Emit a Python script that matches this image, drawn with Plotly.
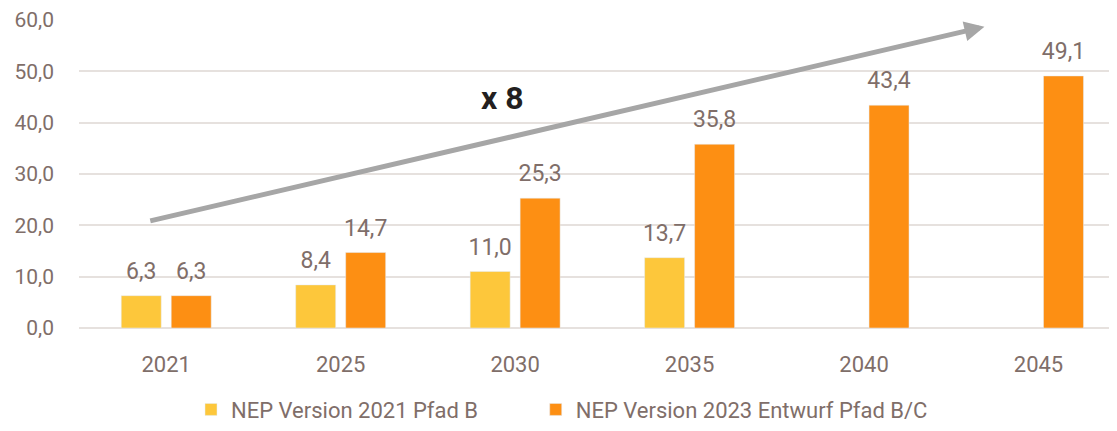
import plotly.graph_objects as go

categories = ["2021", "2025", "2030", "2035", "2040", "2045"]
nep2021 = [6.3, 8.4, 11.0, 13.7, None, None]
nep2023 = [6.3, 14.7, 25.3, 35.8, 43.4, 49.1]
series_names = ["NEP Version 2021 Pfad B", "NEP Version 2023 Entwurf Pfad B/C"]
y_ticks = [0, 10, 20, 30, 40, 50, 60]

TXT = "#806E69"
FONT = "Roboto"
FS = 21

series = [(nep2021, series_names[0], "#FDC73B", "legend", "g1"),
          (nep2023, series_names[1], "#FD8F13", "legend2", "g2")]

fig = go.Figure()
for vals, name, col, leg, grp in series:
    fig.add_trace(go.Bar(x=categories, y=vals, name=name, legend=leg,
                         marker=dict(color=col), offsetgroup=grp))
for vals, name, col, leg, grp in series:
    fig.add_trace(go.Scatter(x=categories, y=vals, mode="markers+text",
                             texttemplate="%{y:.1f}", textposition="top center",
                             marker=dict(size=16, color="rgba(0,0,0,0)"),
                             offsetgroup=grp, showlegend=False, cliponaxis=False,
                             hoverinfo="skip",
                             textfont=dict(color=TXT, size=23, family=FONT)))

fig.add_annotation(x=4.69, y=58.7, ax=-0.1, ay=20.8, xref="x", yref="y",
                   axref="x", ayref="y", showarrow=True, arrowhead=2,
                   arrowsize=0.8, arrowwidth=5, arrowcolor="#A6A6A6", text="")
fig.add_annotation(x=1.93, y=44.8, xref="x", yref="y", text="<b>x 8</b>",
                   showarrow=False, font=dict(size=32, color="#231F20", family=FONT))

legfont = dict(size=22, color=TXT, family=FONT)
fig.update_layout(
    width=1117, height=431,
    margin=dict(l=71, r=8, t=12, b=109),
    paper_bgcolor="white", plot_bgcolor="white",
    separators=",.",
    barmode="group", bargap=0.427, bargroupgap=0.2,
    scattermode="group", scattergap=0.427,
    font=dict(family=FONT, color=TXT, size=FS),
    legend=dict(orientation="h", x=0.1079, xanchor="left", y=-0.265, yanchor="middle",
                font=legfont),
    legend2=dict(orientation="h", x=0.4400, xanchor="left", y=-0.265, yanchor="middle",
                 font=legfont),
    xaxis=dict(type="category", range=[-0.5, 5.45], showgrid=False, automargin=False,
               ticks="", ticklabelstandoff=21, showline=False,
               tickfont=dict(size=22, color=TXT)),
    yaxis=dict(range=[0, 60], tickvals=y_ticks, tickformat=".1f", automargin=False,
               showgrid=True, gridcolor="#E6E1DE", gridwidth=2,
               zeroline=True, zerolinecolor="#E6E1DE", zerolinewidth=2,
               ticklabelstandoff=24, tickfont=dict(size=FS, color=TXT)),
)

fig.write_html("out.html")
